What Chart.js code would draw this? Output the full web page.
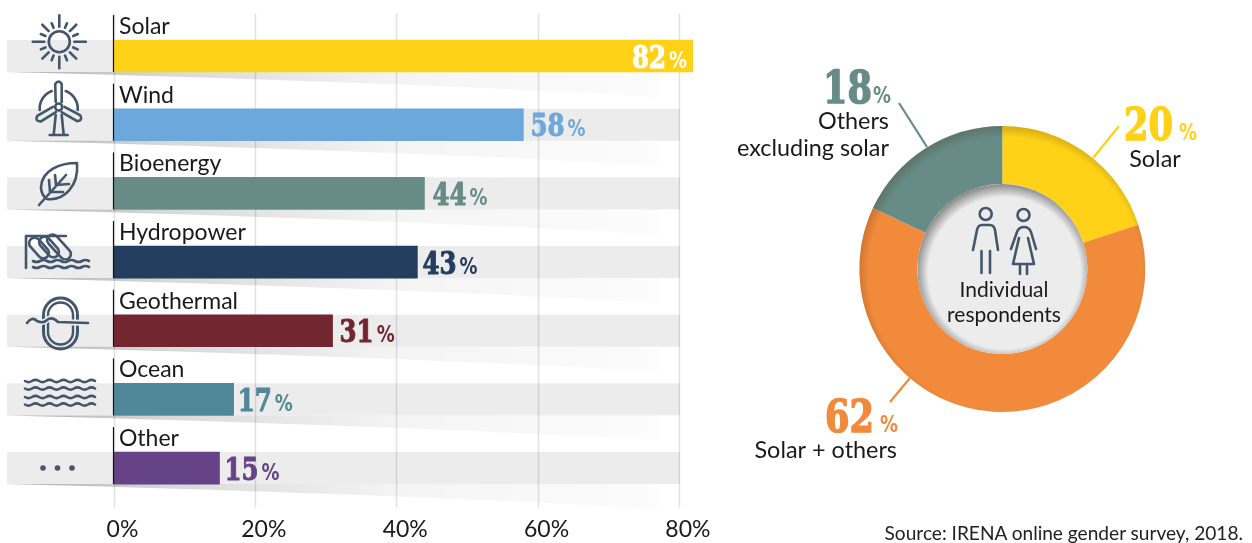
<!DOCTYPE html>
<html>
<head>
<meta charset="utf-8">
<title>Renewable energy respondents</title>
<script src="https://cdn.jsdelivr.net/npm/chart.js@4"></script>
<style>
  html, body { margin: 0; padding: 0; background: #fff; }
  body { position: relative; width: 1252px; height: 543px; overflow: hidden; }
  canvas, svg { position: absolute; top: 0; }
  #barChart { left: 0; }
  #ringChart { left: 720px; }
  #icons { left: 0; pointer-events: none; }
  #source { position: absolute; right: 9px; top: 521px; font: 19.1px Lato, sans-serif; color: #222; white-space: nowrap; }
</style>
</head>
<body>
<canvas id="barChart" width="720" height="543"></canvas>
<canvas id="ringChart" width="532" height="543"></canvas>
<svg id="icons" width="1252" height="543" fill="none" stroke="#44566b" stroke-width="2.6" stroke-linecap="round" stroke-linejoin="round"></svg>
<div id="source">Source: IRENA online gender survey, 2018.</div>
<script>
const categories = ['Solar', 'Wind', 'Bioenergy', 'Hydropower', 'Geothermal', 'Ocean', 'Other'];
const shares = [82, 58, 44, 43, 31, 17, 15];
const barColors = ['#ffd117', '#6ca8dc', '#678b87', '#233e5e', '#72262f', '#518899', '#654386'];
const tickValues = [0, 20, 40, 60, 80];

const ringLabels = ['Solar', 'Solar + others', 'Others excluding solar'];
const ringShares = [20, 62, 18];
const ringColors = ['#ffd117', '#f28a3c', '#678b87'];

const textFont = 'Lato, sans-serif';

// big slab digits + small percent sign, x is left edge of the digits
function bigPercent(ctx, num, x, y, size, sx, gap, color) {
  ctx.save();
  ctx.fillStyle = color;
  ctx.strokeStyle = color;
  ctx.lineJoin = 'round';
  ctx.textAlign = 'left';
  ctx.textBaseline = 'alphabetic';
  ctx.font = `bold ${size}px "DejaVu Serif"`;
  ctx.save();
  ctx.translate(x, y);
  ctx.scale(sx, 1);
  ctx.lineWidth = size / 30;
  ctx.strokeText(num, 0, 0);
  ctx.fillText(num, 0, 0);
  const w = ctx.measureText(num).width * sx;
  ctx.restore();
  ctx.font = 'bold 23px "DejaVu Sans"';
  ctx.translate(x + w + gap, y);
  ctx.scale(0.78, 1);
  ctx.fillText('%', 0, 0);
  ctx.restore();
}

const rowDecor = {
  id: 'rowDecor',
  beforeDatasetsDraw(chart) {
    const { ctx, chartArea, scales } = chart;
    const bars = chart.getDatasetMeta(0).data;
    bars.forEach(bar => {
      const top = bar.y - bar.height / 2, bottom = bar.y + bar.height / 2;
      ctx.fillStyle = '#ececec';
      ctx.fillRect(7, top, 673, bar.height);
      const g = ctx.createLinearGradient(7, 0, 658, 0);
      g.addColorStop(0, 'rgba(0,0,0,0.32)');
      g.addColorStop(0.25, 'rgba(0,0,0,0.15)');
      g.addColorStop(0.6, 'rgba(0,0,0,0.045)');
      g.addColorStop(1, 'rgba(0,0,0,0.012)');
      ctx.fillStyle = g;
      ctx.beginPath();
      ctx.moveTo(7, bottom);
      ctx.lineTo(658, bottom);
      ctx.lineTo(658, bottom + 25);
      ctx.quadraticCurveTo(400, bottom + 10, 7, bottom);
      ctx.closePath();
      ctx.fill();
    });
    ctx.strokeStyle = 'rgba(0,0,0,0.12)';
    ctx.lineWidth = 1.5;
    scales.x.ticks.forEach(t => {
      const x = Math.round(scales.x.getPixelForValue(t.value)) + 0.5;
      ctx.beginPath();
      ctx.moveTo(x, chartArea.top - 8);
      ctx.lineTo(x, chartArea.bottom + 5);
      ctx.stroke();
    });
  },
  afterDatasetsDraw(chart) {
    const { ctx, chartArea } = chart;
    const bars = chart.getDatasetMeta(0).data;
    const nudge = [0, 7, 8, 5, 7, 4, 5];
    bars.forEach((bar, i) => {
      const top = bar.y - bar.height / 2, bottom = bar.y + bar.height / 2;
      ctx.strokeStyle = '#111';
      ctx.lineWidth = 1.2;
      ctx.beginPath();
      ctx.moveTo(chartArea.left, top - 25);
      ctx.lineTo(chartArea.left, bottom);
      ctx.stroke();
      ctx.fillStyle = '#1a1a1a';
      ctx.font = `23px ${textFont}`;
      ctx.textAlign = 'left';
      ctx.textBaseline = 'alphabetic';
      ctx.fillText(categories[i], chartArea.left + 5.5, top - 6);
      if (i === 0) {
        bigPercent(ctx, String(shares[i]), bar.x - 61, bar.y + 11.5, 31, 0.79, 3, '#fff');
      } else {
        bigPercent(ctx, String(shares[i]), bar.x + nudge[i], bar.y + 11.5, 31, 0.79, 3, barColors[i]);
      }
    });
  }
};

new Chart(document.getElementById('barChart'), {
  type: 'bar',
  data: {
    labels: categories,
    datasets: [{ data: shares, backgroundColor: barColors, barThickness: 32, borderWidth: 0 }]
  },
  options: {
    indexAxis: 'y',
    responsive: false,
    animation: false,
    layout: { padding: { left: 113.5, right: 27, top: 21.7, bottom: 0 } },
    plugins: { legend: { display: false }, tooltip: { enabled: false } },
    scales: {
      y: { display: false, grid: { display: false } },
      x: {
        min: 0,
        max: 82,
        border: { display: false },
        grid: { display: false },
        afterBuildTicks(scale) { scale.ticks = tickValues.map(v => ({ value: v })); },
        afterFit(scale) { scale.height = 40.6; scale.paddingLeft = 0; scale.paddingRight = 0; },
        ticks: {
          maxRotation: 0,
          autoSkip: false,
          labelOffset: 9,
          padding: 5,
          color: '#1a1a1a',
          font: { family: 'Lato', size: 23 },
          callback: v => v + '%'
        }
      }
    }
  },
  plugins: [rowDecor]
});

const ringDecor = {
  id: 'ringDecor',
  afterDatasetsDraw(chart) {
    const { ctx } = chart;
    const arc = chart.getDatasetMeta(0).data[0];
    const cx = arc.x, cy = arc.y, r0 = arc.innerRadius, r1 = arc.outerRadius;

    // soft dark rim on the outside of the ring
    const rim = ctx.createRadialGradient(cx + 3, cy + 5, r1 - 6, cx + 3, cy + 5, r1 + 4);
    rim.addColorStop(0, 'rgba(60,40,0,0)');
    rim.addColorStop(1, 'rgba(60,40,0,0.2)');
    ctx.save();
    ctx.beginPath();
    ctx.arc(cx, cy, r1, 0, Math.PI * 2);
    ctx.arc(cx, cy, r0, 0, Math.PI * 2, true);
    ctx.clip();
    ctx.fillStyle = rim;
    ctx.fillRect(cx - r1, cy - r1, r1 * 2, r1 * 2);
    ctx.restore();

    // hole with inner shadow
    ctx.fillStyle = '#ececec';
    ctx.beginPath();
    ctx.arc(cx, cy, r0, 0, Math.PI * 2);
    ctx.fill();
    const inner = ctx.createRadialGradient(cx + 2, cy + 4, r0 - 9, cx + 2, cy + 4, r0 + 4);
    inner.addColorStop(0, 'rgba(0,0,0,0)');
    inner.addColorStop(1, 'rgba(0,0,0,0.42)');
    ctx.save();
    ctx.beginPath();
    ctx.arc(cx, cy, r0, 0, Math.PI * 2);
    ctx.clip();
    ctx.fillStyle = inner;
    ctx.fillRect(cx - r0, cy - r0, r0 * 2, r0 * 2);
    ctx.restore();

    // leader lines
    ctx.lineWidth = 2.2;
    [[ringColors[2], 179, 103, 207, 147], [ringColors[0], 399, 126, 373, 158], [ringColors[1], 170, 402, 190, 378]].forEach(l => {
      ctx.strokeStyle = l[0];
      ctx.beginPath();
      ctx.moveTo(l[1], l[2]);
      ctx.lineTo(l[3], l[4]);
      ctx.stroke();
    });

    bigPercent(ctx, String(ringShares[2]), 103, 103, 44, 0.8, 1, ringColors[2]);
    bigPercent(ctx, String(ringShares[0]), 404, 140, 44, 0.8, 6, ringColors[0]);
    bigPercent(ctx, String(ringShares[1]), 105, 432, 44, 0.8, 6, ringColors[1]);

    ctx.fillStyle = '#1a1a1a';
    ctx.font = `23.4px ${textFont}`;
    ctx.textBaseline = 'alphabetic';
    ctx.textAlign = 'right';
    ctx.fillText('Others', 169, 129);
    ctx.fillText('excluding solar', 169, 156);
    ctx.fillText(ringLabels[1], 177, 458);
    ctx.textAlign = 'center';
    ctx.fillText(ringLabels[0], 435, 167);
    ctx.font = `21px ${textFont}`;
    ctx.fillText('Individual', 284, 297);
    ctx.fillText('respondents', 284, 322);
  }
};

new Chart(document.getElementById('ringChart'), {
  type: 'doughnut',
  data: {
    labels: ringLabels,
    datasets: [{ data: ringShares, backgroundColor: ringColors, borderWidth: 0 }]
  },
  options: {
    responsive: false,
    animation: false,
    radius: 143,
    cutout: 85,
    layout: { padding: { left: 139.3, right: 106.7, top: 126, bottom: 131 } },
    plugins: { legend: { display: false }, tooltip: { enabled: false } }
  },
  plugins: [ringDecor]
});

// icons
function wave(x0, x1, y, amp) {
  let d = `M${x0} ${y}`;
  for (let x = x0, up = false; x < x1; x += 7, up = !up) {
    d += ` Q${x + 3.5} ${y + (up ? -amp : amp)} ${x + 7} ${y}`;
  }
  return `<path d="${d}"/>`;
}
function sun(cx, cy) {
  let s = `<circle cx="${cx}" cy="${cy}" r="10.5"/>`;
  for (let i = 0; i < 16; i++) {
    const a = i * Math.PI / 8;
    const long = i % 2 === 0;
    const r1 = i % 4 === 0 ? 26.5 : long ? 24 : 20;
    const x = Math.sin(a), y = Math.cos(a);
    s += `<line x1="${cx + 15 * x}" y1="${cy + 15 * y}" x2="${cx + r1 * x}" y2="${cy + r1 * y}"/>`;
  }
  return s;
}
function turbine(cx, cy) {
  let s = `<circle cx="${cx}" cy="${cy}" r="3.5"/>`;
  [0, 120, 240].forEach(a => {
    s += `<path transform="rotate(${a} ${cx} ${cy})" d="M${cx - 3} ${cy - 5} L${cx - 3.5} ${cy - 23} Q${cx} ${cy - 28} ${cx + 3} ${cy - 23} L${cx + 3} ${cy - 5}"/>`;
  });
  s += `<path d="M${cx - 3} ${cy + 8} L${cx - 5} ${cy + 28} M${cx + 3} ${cy + 8} L${cx + 5} ${cy + 28} M${cx - 9} ${cy + 28} L${cx + 9} ${cy + 28}"/>`;
  s += `<path d="M${cx - 19} ${cy + 3} A19 19 0 0 1 ${cx - 7} ${cy - 16} M${cx + 7} ${cy - 16} A19 19 0 0 1 ${cx + 19} ${cy + 3}"/>`;
  return s;
}
const leaf = `<path d="M77 163 C60 163 42 170 41 187 C41 193 44 197 47 199 C64 201 79 186 77 163 Z"/>
  <path d="M39 205 L66 175 M50 192 L49 180 M56 185 L55 175 M50 192 L63 192 M56 185 L69 184"/>`;
const capsule = (x, y, w) => `<rect x="${-w / 2}" y="-5.5" width="${w}" height="11" rx="5.5" transform="translate(${x} ${y}) rotate(48)"/>`;
const hydro = `<path d="M26 268 L26 236 L66 236"/>`
  + capsule(39, 248, 24) + capsule(49, 247, 24) + capsule(59, 247, 30)
  + `<path d="M29 260 H75 V272 H29 Z" fill="#ececec" stroke="none"/>`
  + wave(33, 89, 261, 2) + wave(33, 89, 267, 2);
const geo = `<rect x="43.5" y="298" width="34" height="51" rx="17" stroke-width="3"/>
  <rect x="48" y="302.5" width="25" height="42" rx="12.5" stroke-width="2.4"/>
  <path d="M27 323 Q32 316 37 321 Q43 324 47 320 Q52 316 58 322 L88 323" stroke="#ececec" stroke-width="6"/>
  <path d="M27 323 Q32 316 37 321 Q43 324 47 320 Q52 316 58 322 L88 323"/>`;
const ocean = wave(25, 95, 381, 2.2) + wave(25, 95, 388.5, 2.2) + wave(25, 95, 397, 2.2) + wave(25, 95, 404.5, 2.2);
const dots = [43, 57.5, 72].map(x => `<circle cx="${x}" cy="468" r="2.8" fill="#44566b" stroke="none"/>`).join('');
const people = `<circle cx="985.7" cy="214" r="6"/>
  <path d="M973 250 L977 230 Q978 225 982 225 L990 225 Q994 225 995 230 L998 250 M981.5 251 L981.5 273 M990 251 L990 273"/>
  <circle cx="1023.5" cy="215" r="6"/>
  <path d="M1011 249 L1017 232 Q1019 227 1024 227 Q1029 227 1031 232 L1036 249 M1019 238 L1013 264 L1034 264 L1028 238 M1020 265 L1020 274 M1027 265 L1027 274"/>`;

document.getElementById('icons').innerHTML =
  sun(59.3, 41.7) + turbine(58.7, 107) + leaf + hydro + geo + ocean + dots + people;
</script>
</body>
</html>
